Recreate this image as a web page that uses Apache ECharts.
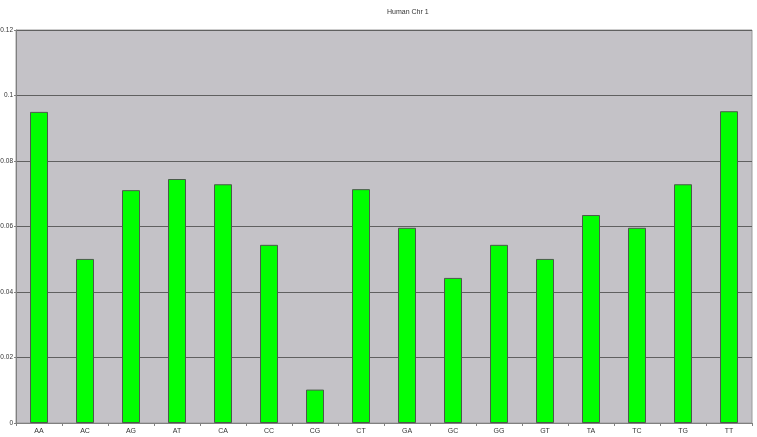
<!DOCTYPE html>
<html>
<head>
<meta charset="utf-8">
<script src="https://cdn.jsdelivr.net/npm/echarts@6/dist/echarts.min.js"></script>
<style>
  html, body { margin: 0; padding: 0; background: #fff; }
  #chart { width: 757px; height: 437px; }
</style>
</head>
<body>
<div id="chart"></div>
<script>
// 二核苷酸频率
const dinucleotides = ['AA', 'AC', 'AG', 'AT', 'CA', 'CC', 'CG', 'CT', 'GA', 'GC', 'GG', 'GT', 'TA', 'TC', 'TG', 'TT'];
const frequencies = [0.0950, 0.0501, 0.0711, 0.0745, 0.0729, 0.0544, 0.0102, 0.0714, 0.0596, 0.0443, 0.0544, 0.0501, 0.0635, 0.0596, 0.0729, 0.0952];
const chartTitle = 'Human Chr 1';

const chart = echarts.init(document.getElementById('chart'));

const option = {
  animation: false,
  title: {
    text: chartTitle,
    left: 382,
    top: 4,
    textStyle: { fontSize: 7, fontWeight: 'normal', color: '#333', fontFamily: 'Liberation Sans' },
  },
  grid: {
    left: 16,
    right: 5,
    top: 30,
    bottom: 14,
    containLabel: false,
    outerBoundsMode: 'none',
    show: true,
    backgroundColor: '#c4c2c7',
    borderColor: '#9a9a9a',
    borderWidth: 1,
  },
  xAxis: {
    type: 'category',
    data: dinucleotides,
    axisLine: { lineStyle: { color: '#808080' } },
    axisTick: { show: true, length: 3, lineStyle: { color: '#808080' } },
    axisLabel: { fontSize: 7, color: '#333', margin: 5, fontFamily: 'Liberation Sans' },
  },
  yAxis: {
    type: 'value',
    min: 0,
    max: 0.12,
    interval: 0.02,
    axisLine: { show: true, lineStyle: { color: '#808080' } },
    axisTick: { show: true, length: 2, lineStyle: { color: '#808080' } },
    axisLabel: {
      fontSize: 6.5,
      color: '#333',
      margin: 3,
      fontFamily: 'Liberation Sans',
      formatter: v => (v === 0 ? '0' : String(+v.toFixed(2))),
    },
    splitLine: { lineStyle: { color: '#606060', width: 1 } },
  },
  series: [{
    type: 'bar',
    data: frequencies,
    barWidth: 18,
    itemStyle: {
      color: '#00ff00',
      borderColor: '#4a5a4a',
      borderWidth: 1,
    },
  }],
};

chart.setOption(option);
</script>
</body>
</html>
